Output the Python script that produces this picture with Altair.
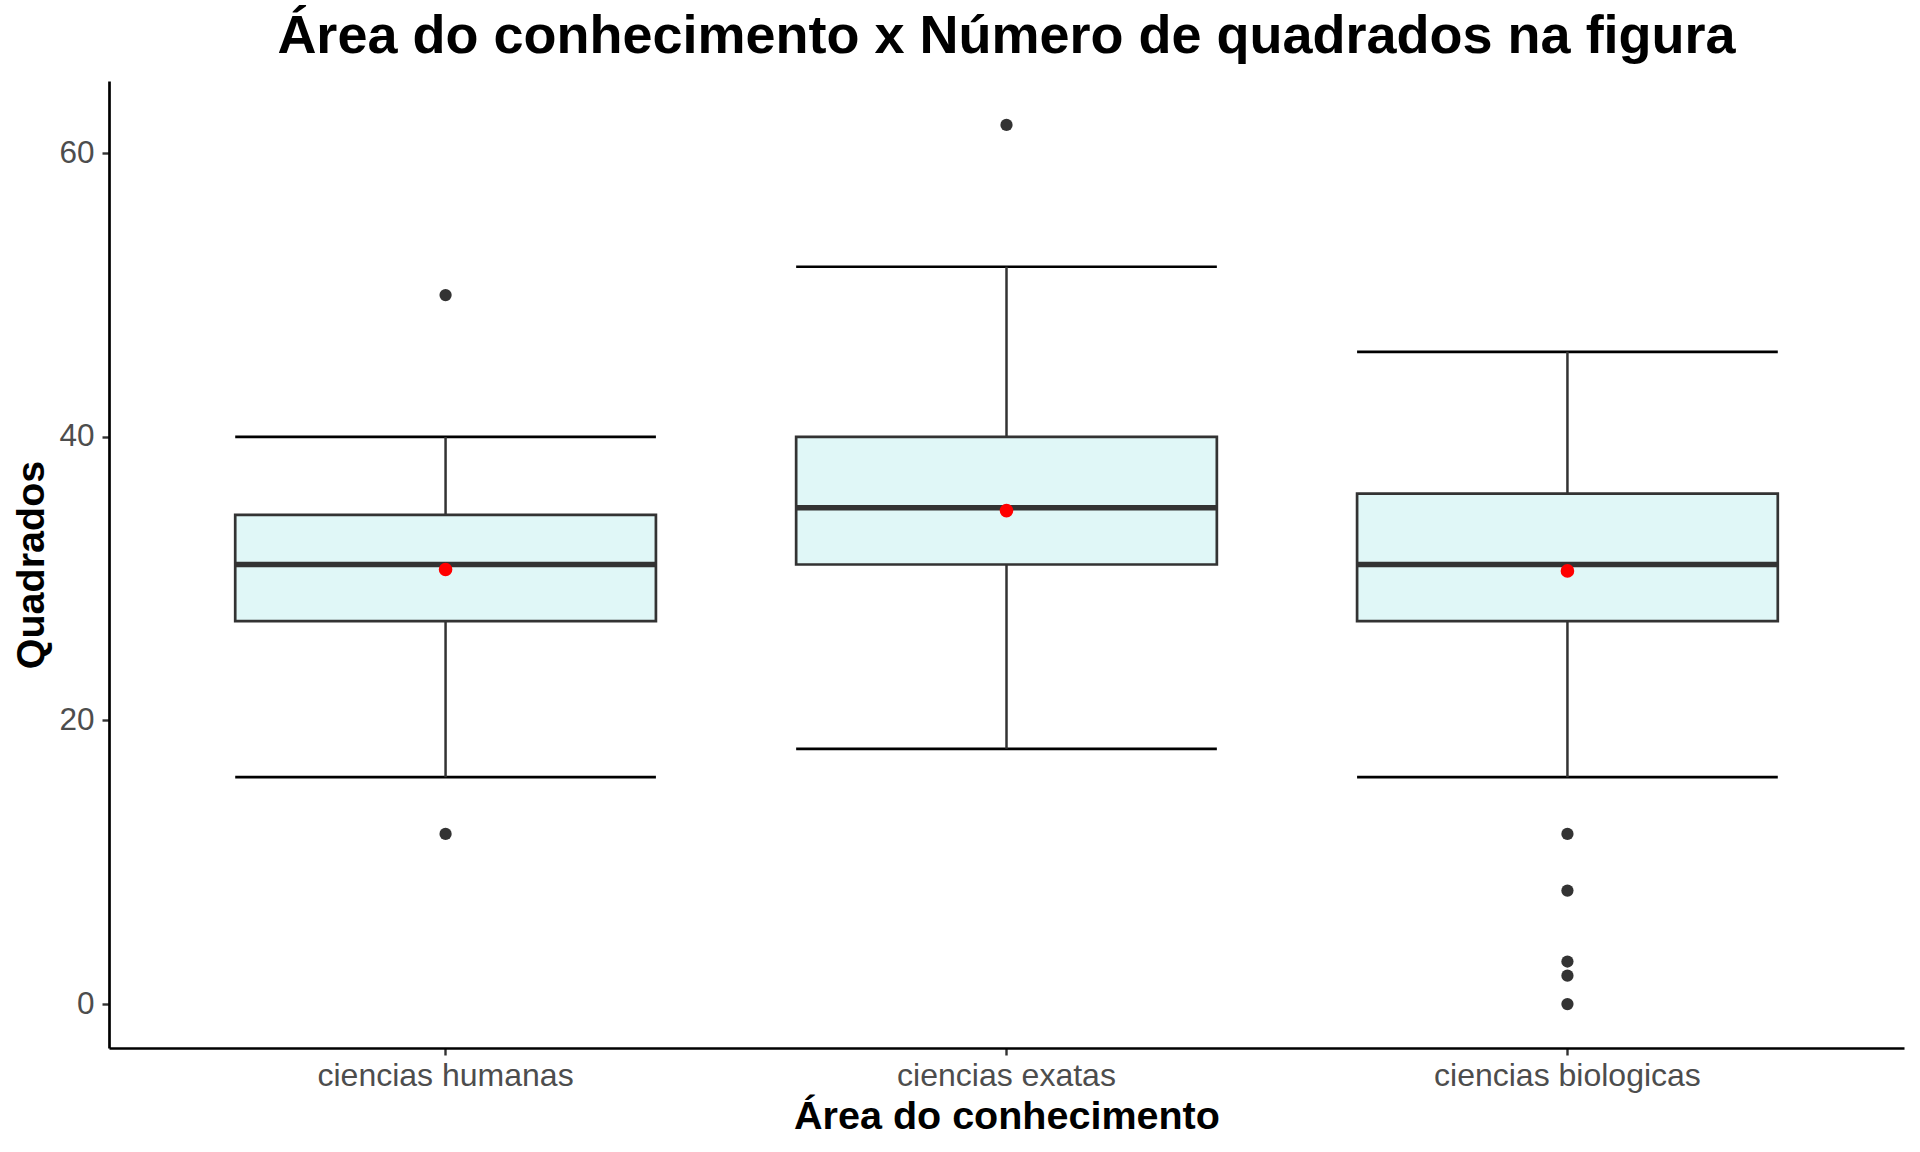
import altair as alt
import pandas as pd

# ---- data ----
categories = ["ciencias humanas", "ciencias exatas", "ciencias biologicas"]
q1 = [27, 31, 27]
medians = [31, 35, 31]
q3 = [34.5, 40, 36]
whisker_low = [16, 18, 16]
whisker_high = [40, 52, 46]
means = [30.65, 34.8, 30.55]

outlier_area = ["ciencias humanas", "ciencias humanas", "ciencias exatas",
                "ciencias biologicas", "ciencias biologicas", "ciencias biologicas",
                "ciencias biologicas", "ciencias biologicas"]
outlier_value = [50, 12, 62, 12, 8, 3, 2, 0]

y_ticks = [0, 20, 40, 60]

title_text = "Área do conhecimento x Número de quadrados na figura"
x_title = "Área do conhecimento"
y_title = "Quadrados"

# ---- tables ----
stats = pd.DataFrame({
    "area": categories, "q1": q1, "median": medians, "q3": q3,
    "lo": whisker_low, "hi": whisker_high, "mean": means,
})
outs = pd.DataFrame({"area": outlier_area, "value": outlier_value})

FONT = "Liberation Sans"
W, H = 1795, 967
BAND = W / 3.2 * 0.75

x_enc = alt.X(
    "area:N", sort=categories,
    scale=alt.Scale(type="band", paddingInner=0.25, paddingOuter=0.225),
    axis=alt.Axis(
        title=x_title, labelAngle=0, labelPadding=5, labelLimit=0, labelFontSize=32,
        titleFontSize=39.5, titleFont=FONT, titleFontWeight="bold", titleColor="black",
        titleBaseline="alphabetic", titleY=80,
    ),
)
y_scale = alt.Scale(domain=[-3.1, 65.1], nice=False, zero=False)
y_axis = alt.Axis(
    title=y_title, values=y_ticks, labelPadding=8, labelFontSize=31.5,
    titleFontSize=39.5, titleFont=FONT, titleFontWeight="bold", titleColor="black",
    titleAngle=-90, titleAlign="center", titleBaseline="alphabetic",
    titleX=-66, titleY=H / 2,
)

base = alt.Chart(stats)

whisk = base.mark_rule(color="#333333", strokeWidth=2.5, opacity=1).encode(
    x=x_enc, y=alt.Y("lo:Q", scale=y_scale, axis=y_axis), y2="hi:Q")

caps_hi = base.mark_tick(color="black", thickness=2.7, size=BAND, opacity=1).encode(
    x=x_enc, y=alt.Y("hi:Q", scale=y_scale, axis=y_axis))
caps_lo = base.mark_tick(color="black", thickness=2.7, size=BAND, opacity=1).encode(
    x=x_enc, y=alt.Y("lo:Q", scale=y_scale, axis=y_axis))

box = base.mark_bar(fill="#E0F7F7", stroke="#333333", strokeWidth=2.7, opacity=1).encode(
    x=x_enc, y=alt.Y("q1:Q", scale=y_scale, axis=y_axis), y2="q3:Q")

med = base.mark_tick(color="#333333", thickness=5.5, size=BAND, opacity=1).encode(
    x=x_enc, y=alt.Y("median:Q", scale=y_scale, axis=y_axis))

outliers = alt.Chart(outs).mark_circle(color="#333333", size=150, opacity=1).encode(
    x=x_enc, y=alt.Y("value:Q", scale=y_scale, axis=y_axis))

mean_pts = base.mark_circle(color="red", size=185, opacity=1).encode(
    x=x_enc, y=alt.Y("mean:Q", scale=y_scale, axis=y_axis))

chart = alt.layer(caps_hi, caps_lo, whisk, box, med, outliers, mean_pts).properties(
    width=W, height=H,
    background="white",
    autosize=alt.AutoSizeParams(type="none"),
    padding={"left": 109, "top": 81, "right": 16, "bottom": 104},
    title=alt.TitleParams(
        text=title_text, font=FONT, fontSize=54, fontWeight="bold", color="black",
        anchor="middle", frame="group", baseline="alphabetic", offset=4, dy=30,
    ),
).configure_view(stroke="transparent").configure_axis(
    grid=False,
    domainColor="black", domainWidth=2.7,
    tickColor="#333333", tickWidth=2.4, tickSize=7,
    labelColor="#4D4D4D", labelFont=FONT, labelFontSize=31,
)

chart.save("out.html", embed_options={"renderer": "svg", "actions": False})
